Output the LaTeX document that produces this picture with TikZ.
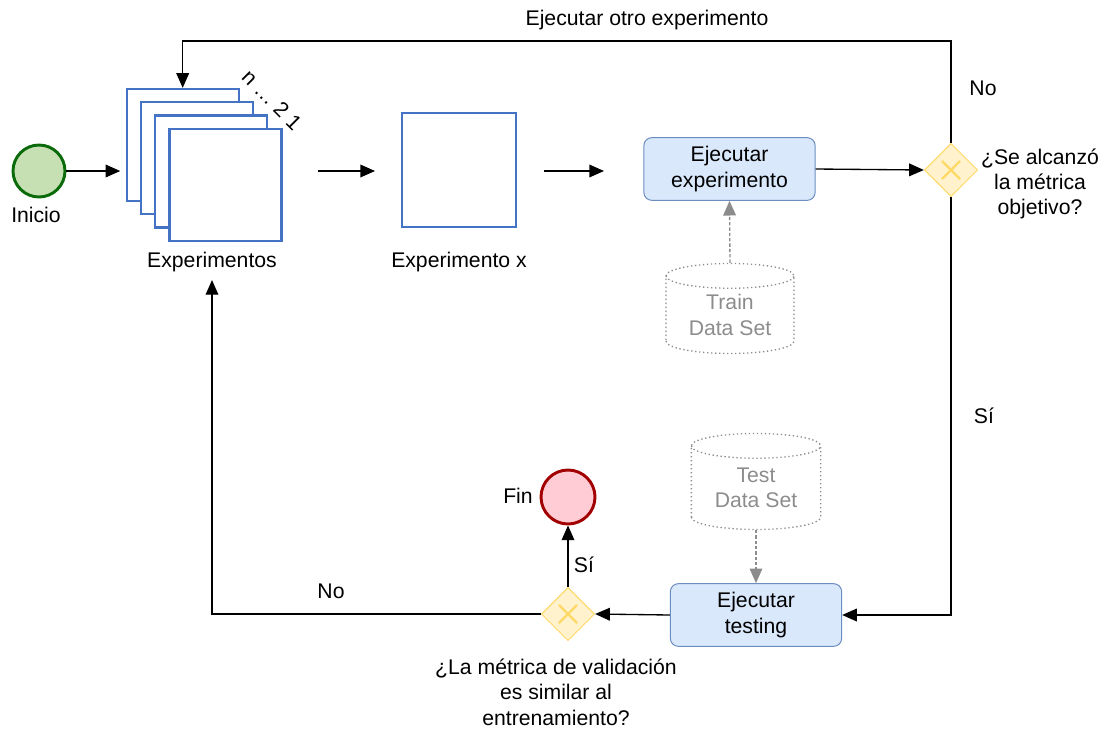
\documentclass[tikz,border=0pt]{standalone}
\usepackage{fontspec}
\setmainfont{Liberation Sans}
\usetikzlibrary{arrows.meta,shapes.geometric}

\definecolor{expblue}{HTML}{4472C4}
\definecolor{taskfill}{HTML}{DAE8FC}
\definecolor{taskdraw}{HTML}{6C8EBF}
\definecolor{gatefill}{HTML}{FFF2CC}
\definecolor{gatedraw}{HTML}{FFD966}
\definecolor{startfill}{HTML}{C6E0B4}
\definecolor{startdraw}{HTML}{0B6B0B}
\definecolor{endfill}{HTML}{FFCCD5}
\definecolor{enddraw}{HTML}{A20000}
\definecolor{dsgray}{HTML}{8C8C8C}

\tikzset{every picture/.style={line width=0.75pt}}
\tikzset{
  arr/.style={draw=black, line width=1pt, -{Triangle[length=11pt,width=9.5pt]}},
  dsarr/.style={draw=dsgray, line width=1pt, dash pattern=on 2.5pt off 1.5pt, -{Triangle[length=11pt,width=9.5pt,fill=dsgray]}},
  txt/.style={inner sep=0.75pt, align=center},
  expbox/.style={draw=expblue, fill=white, line width=1.7pt, minimum width=84pt, minimum height=84pt, inner sep=0},
  task/.style={draw=taskdraw, fill=taskfill, rounded corners=6pt, minimum width=128.5pt, minimum height=47pt, align=center, inner sep=0},
  gate/.style={diamond, draw=gatedraw, fill=gatefill, minimum size=40pt, inner sep=0,
    path picture={\draw[gatedraw, line width=1.7pt] ([shift={(-9,-9)}]path picture bounding box.center) -- ([shift={(9,9)}]path picture bounding box.center)
      ([shift={(-9,9)}]path picture bounding box.center) -- ([shift={(9,-9)}]path picture bounding box.center);}},
  startev/.style={circle, draw=startdraw, fill=startfill, line width=2.2pt, minimum size=39pt, inner sep=0},
  endev/.style={circle, draw=enddraw, fill=endfill, line width=2.2pt, minimum size=40.5pt, inner sep=0},
  dataset/.style={cylinder, shape border rotate=90, aspect=0.3, draw=dsgray, dotted, line width=1pt, minimum width=96pt, minimum height=67.5pt, text=dsgray, align=center, inner sep=0}
}

\begin{document}
\begin{tikzpicture}[x=0.75pt,y=0.75pt,yscale=-1,font=\fontsize{15.9}{19}\selectfont]
\useasboundingbox (0,0) rectangle (1104,729);

% Start event
\node[startev] (inicio) at (39,171) {};
\node[txt] (iniciol) at (36,215) {Inicio};

% Stack of experiments
\node[expbox] (exp1) at (182.7,145) {};
\node[expbox] (exp2) at (197,158) {};
\node[expbox] (exp3) at (211,171.5) {};
\node[expbox] (exp4) at (225.5,185.2) {};
\node[txt, rotate=-45] (cnt) at (272,100) {n … 2 1};
\node[txt] (expl) at (212,262) {Experimentos};

% Single experiment
\coordinate (a1s) at (318,171);
\coordinate (a1e) at (375,171);
\node[expbox, minimum width=85pt, minimum height=85pt] (expx) at (459,170) {};
\node[txt] (expxl) at (459,262) {Experimento x};
\coordinate (a2s) at (544,171);
\coordinate (a2e) at (604,171);

% Training
\node[task] (ejexp) at (729.5,169) {Ejecutar\\experimento};
\node[dataset] (train) at (730,315) {Train\\Data Set};
\node[gate] (gate1) at (951,170) {};
\node[txt] (q1) at (1040,184) {¿Se alcanzó\\la métrica\\objetivo?};
\coordinate (top) at (0,41);

% Testing
\node[dataset, minimum width=97pt, minimum height=72pt] (test) at (756,488) {Test\\Data Set};
\node[task] (testing) at (756,615) {Ejecutar\\testing};
\node[gate] (gate2) at (568,614) {};
\node[endev] (fin) at (568,497) {};
\node[txt] (finl) at (518,496) {Fin};
\node[txt] (q2) at (556,692) {¿La métrica de validación\\es similar al\\entrenamiento?};

% Edge labels
\node[txt] (otro) at (647,20) {Ejecutar otro experimento};
\node[txt] (no1) at (983,88) {No};
\node[txt] (si1) at (984,416) {Sí};
\node[txt] (si2) at (584,565) {Sí};
\node[txt] (no2) at (331,591) {No};

% Connectors
\draw[arr, shorten >=4pt] (inicio.east) -- (inicio.east -| exp1.west);
\draw[arr] (a1s) -- (a1e);
\draw[arr] (a2s) -- (a2e);
\draw[arr] (ejexp.east) -- (gate1.west);
\draw[arr] (gate1.north) -- (gate1.north |- top) -| (exp1.north);
\draw[arr] (gate1.south) |- (testing.east);
\draw[dsarr] (train.north) -- (ejexp.south);
\draw[dsarr] (test.south) -- (testing.north);
\draw[arr] (testing.west) -- (gate2.east);
\draw[arr] (gate2.north) -- (fin.south);
\draw[arr, shorten >=5pt] (gate2.west) -| (expl.south);

\end{tikzpicture}
\end{document}
